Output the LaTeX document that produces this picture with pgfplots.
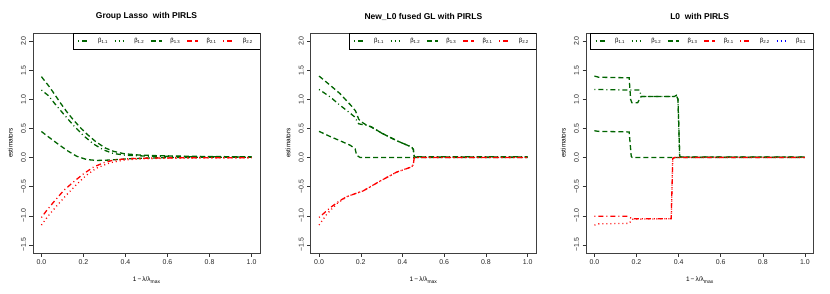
\documentclass[border=0pt]{standalone}
\usepackage{pgfplots}
\pgfplotsset{compat=1.18}
\usepackage{fontspec}
\setmainfont{Liberation Sans}
\definecolor{dgreen}{RGB}{0,100,0}
\definecolor{rred}{RGB}{255,0,0}
\definecolor{bblue}{RGB}{0,0,255}
\tikzset{
 rdash/.style={dash pattern=on 5bp off 3bp},
 rdot/.style={dash pattern=on 1bp off 3bp},
 rdotdash/.style={dash pattern=on 1bp off 3bp on 5bp off 3bp},
 lgbox/.style={draw=black, line width=0.5bp, fill=white, anchor=north east, inner xsep=0bp, inner ysep=0bp,
   minimum height=16bp, font=\fontsize{6}{7}\selectfont},
}
\newcommand{\bl}[1]{β\raisebox{-0.35ex}{\fontsize{4.3}{5}\selectfont #1}}
\newcommand{\lgitem}[3]{\tikz[baseline=-0.6ex]{\draw[draw=#1, color=#1, line width=1.3bp, #2] (0bp,0bp) -- (11bp,0bp);}\kern8bp\bl{#3}\kern6.5bp}
\pgfplotsset{
 rpanel/.style={
  scale only axis, height=220bp, anchor=south west,
  xmin=-0.04, xmax=1.04, ymin=-1.64, ymax=2.14,
  xtick={0,0.2,0.4,0.6,0.8,1}, ytick={-1.5,-1,-0.5,0,0.5,1,1.5,2},
  xticklabels={0.0,0.2,0.4,0.6,0.8,1.0},
  yticklabels={−1.5,−1.0,−0.5,0.0,0.5,1.0,1.5,2.0},
  xtick pos=bottom, ytick pos=left, tick align=outside, major tick length=3.5bp,
  tick style={black!80, line width=0.5bp},
  axis line style={black!75, line width=0.8bp},
  ticklabel style={font=\fontsize{7}{8}\selectfont, text=black!85},
  yticklabel style={rotate=90, anchor=south},
  title style={font=\fontsize{8.5}{10}\selectfont\bfseries, at={(axis description cs:0.5,1.047)}, anchor=center},
  xlabel={1\,−\,λ/λ\raisebox{-0.45ex}{\fontsize{5}{6}\selectfont max}},
  xlabel style={at={(axis description cs:0.5,-0.1227)}, anchor=center, font=\fontsize{6.5}{8}\selectfont},
  ylabel={estimators},
  ylabel style={at={(axis description cs:-0.100,0.5)}, anchor=center, font=\fontsize{6.5}{8}\selectfont},
 },
}
\begin{document}
\begin{tikzpicture}
\path[use as bounding box] (0,0) rectangle (830bp,294bp);
% ---------- Panel 1
\begin{axis}[rpanel, at={(33bp,41bp)}, width=227bp, title={Group Lasso\ \ with PIRLS}]
\addplot[line width=1.3bp, dgreen, rdash] coordinates {(0,1.39) (0.037,1.22) (0.065,1.075) (0.092,0.93) (0.12,0.79) (0.152,0.647) (0.184,0.52) (0.219,0.395) (0.258,0.275) (0.303,0.166) (0.342,0.108) (0.39,0.068) (0.453,0.046) (0.55,0.032) (0.7,0.022) (0.85,0.016) (1,0.012)};
\addplot[line width=1.3bp, dgreen, rdotdash] coordinates {(0,1.16) (0.033,1.065) (0.065,0.92) (0.105,0.75) (0.153,0.55) (0.2,0.378) (0.247,0.235) (0.295,0.132) (0.342,0.07) (0.4,0.04) (0.5,0.025) (0.7,0.015) (1,0.01)};
\addplot[line width=1.3bp, dgreen, rdash] coordinates {(0,0.447) (0.05,0.31) (0.089,0.206) (0.128,0.108) (0.168,0.022) (0.215,-0.034) (0.263,-0.05) (0.31,-0.045) (0.358,-0.035) (0.42,-0.02) (0.5,-0.01) (0.6,0) (0.8,0.005) (1,0.005)};
\addplot[line width=1.3bp, rred, rdotdash] coordinates {(0,-1.03) (0.025,-0.91) (0.057,-0.77) (0.105,-0.57) (0.152,-0.42) (0.2,-0.28) (0.247,-0.166) (0.295,-0.09) (0.342,-0.045) (0.406,-0.02) (0.52,-0.008) (0.7,-0.004) (1,-0.002)};
\addplot[line width=1.3bp, rred, rdot] coordinates {(0,-1.16) (0.033,-1.0) (0.073,-0.83) (0.12,-0.64) (0.168,-0.46) (0.215,-0.30) (0.263,-0.18) (0.326,-0.09) (0.39,-0.045) (0.47,-0.023) (0.6,-0.012) (1,-0.005)};
\node[lgbox] at (rel axis cs:1,1) {\kern4.5bp\lgitem{dgreen}{rdotdash}{1.1}\lgitem{dgreen}{rdot}{1.2}\lgitem{dgreen}{rdash}{1.3}\lgitem{rred}{rdash}{2.1}\lgitem{rred}{rdotdash}{2.2}\kern1bp};
\end{axis}
% ---------- Panel 2
\begin{axis}[rpanel, at={(310.7bp,41bp)}, width=225.3bp, title={New\_L0 fused GL with PIRLS}]
\addplot[line width=1.3bp, dgreen, rdash] coordinates {(0,1.40) (0.054,1.24) (0.1,1.10) (0.157,0.88) (0.175,0.80) (0.19,0.66) (0.2,0.62) (0.235,0.54) (0.25,0.53) (0.3,0.42) (0.372,0.29) (0.444,0.18) (0.452,0.14) (0.456,0.02) (0.46,0.01) (1,0.01)};
\addplot[line width=1.3bp, dgreen, rdotdash] coordinates {(0,1.17) (0.054,1.04) (0.1,0.9) (0.15,0.76) (0.17,0.70) (0.19,0.58) (0.21,0.565) (0.24,0.545) (0.3,0.42) (0.372,0.29) (0.444,0.18) (0.452,0.14) (0.456,0.02) (0.46,0.015) (1,0.015)};
\addplot[line width=1.3bp, dgreen, rdash] coordinates {(0,0.45) (0.054,0.36) (0.1,0.29) (0.15,0.21) (0.173,0.15) (0.18,0.04) (0.197,0) (1,0)};
\addplot[line width=1.3bp, rred, rdotdash] coordinates {(0,-1.03) (0.054,-0.86) (0.1,-0.74) (0.134,-0.67) (0.213,-0.57) (0.29,-0.41) (0.372,-0.25) (0.444,-0.16) (0.452,-0.12) (0.456,-0.01) (0.46,0) (1,0)};
\addplot[line width=1.3bp, rred, rdot] coordinates {(0,-1.16) (0.038,-0.97) (0.086,-0.79) (0.134,-0.67) (0.213,-0.57) (0.29,-0.41) (0.372,-0.25) (0.444,-0.16) (0.452,-0.12) (0.456,-0.01) (0.46,0) (1,0)};
\node[lgbox] at (rel axis cs:1,1) {\kern4.5bp\lgitem{dgreen}{rdotdash}{1.1}\lgitem{dgreen}{rdot}{1.2}\lgitem{dgreen}{rdash}{1.3}\lgitem{rred}{rdash}{2.1}\lgitem{rred}{rdotdash}{2.2}\kern1bp};
\end{axis}
% ---------- Panel 3
\begin{axis}[rpanel, at={(586bp,41bp)}, width=227.3bp, title={L0\ \ with PIRLS}]
\addplot[line width=1.3bp, dgreen, rdash] coordinates {(0,1.40) (0.02,1.38) (0.165,1.37) (0.172,1.0) (0.178,0.94) (0.205,0.94) (0.222,1.05) (0.38,1.05) (0.39,1.07) (0.397,1.0) (0.405,0.03) (0.41,0.01) (1,0.01)};
\addplot[line width=1.3bp, dgreen, rdotdash] coordinates {(0,1.17) (0.165,1.16) (0.215,1.16) (0.222,1.05) (0.38,1.05) (0.39,1.06) (0.397,1.0) (0.405,0.03) (0.41,0.01) (1,0.01)};
\addplot[line width=1.3bp, dgreen, rdash] coordinates {(0,0.46) (0.02,0.45) (0.165,0.44) (0.175,0.02) (0.18,0) (1,0)};
\addplot[line width=1.3bp, rred, rdotdash] coordinates {(0,-1.01) (0.157,-1.01) (0.18,-1.05) (0.365,-1.05) (0.372,-0.02) (0.38,0) (1,0)};
\addplot[line width=1.3bp, rred, rdot] coordinates {(0,-1.16) (0.02,-1.14) (0.165,-1.13) (0.18,-1.06) (0.365,-1.05) (0.372,-0.02) (0.38,0) (1,0)};
\node[lgbox] at (rel axis cs:1,1) {\kern4.5bp\lgitem{dgreen}{rdotdash}{1.1}\lgitem{dgreen}{rdot}{1.2}\lgitem{dgreen}{rdash}{1.3}\lgitem{rred}{rdash}{2.1}\lgitem{rred}{rdotdash}{2.2}\lgitem{bblue}{rdot}{3.1}\kern1bp};
\end{axis}
\end{tikzpicture}
\end{document}
